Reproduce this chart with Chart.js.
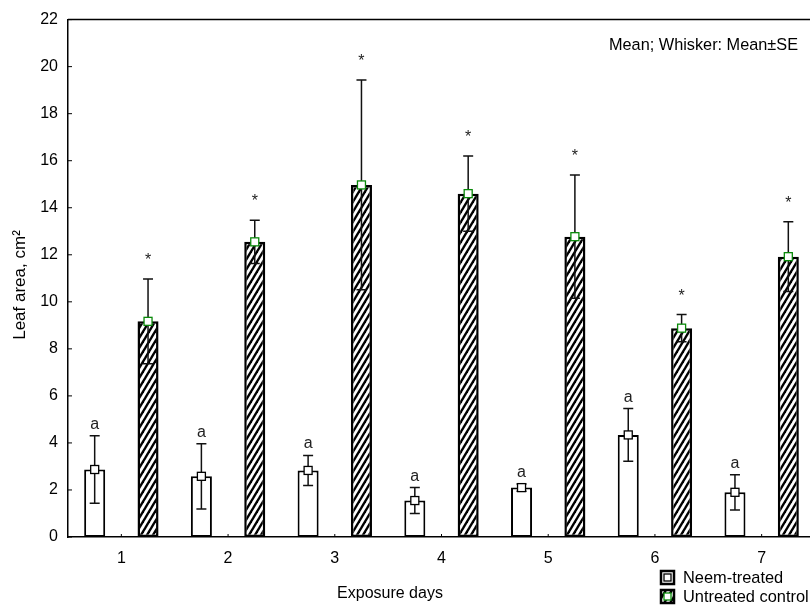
<!DOCTYPE html>
<html><head><meta charset="utf-8">
<script src="https://cdn.jsdelivr.net/npm/chart.js@4.4.1/dist/chart.umd.min.js"></script>
<style>
html,body{margin:0;padding:0;background:#fff;overflow:hidden;}
#wrap{width:810px;height:607px;overflow:hidden;position:relative;background:#fff;}
canvas{display:block;}
</style></head><body>
<div id="wrap"><canvas id="c" width="830" height="607"></canvas></div>
<script>
// ---- data ----
const days = ['1', '2', '3', '4', '5', '6', '7'];
const neemMean = [2.87, 2.58, 2.83, 1.55, 2.10, 4.34, 1.90];
const neemSE = [1.43, 1.39, 0.64, 0.55, 0.15, 1.12, 0.75];
const controlMean = [9.17, 12.55, 14.97, 14.60, 12.77, 8.88, 11.92];
const controlSE = [1.80, 0.92, 4.46, 1.60, 2.62, 0.58, 1.48];
const neemLetters = ['a', 'a', 'a', 'a', 'a', 'a', 'a'];
const controlMarks = ['*', '*', '*', '*', '*', '*', '*'];
const seriesNames = ['Neem-treated', 'Untreated control'];
const noteText = 'Mean; Whisker: Mean\u00B1SE';
const xTitle = 'Exposure days';
const yTitle = 'Leaf area, cm\u00B2';
const yMin = 0, yMax = 22, yStep = 2;

const FONT = '"Liberation Sans", Arial, sans-serif';
const GREEN = '#0a8a0a';

function makeHatch(ctx) {
  const w = 6, h = 10;
  const c = document.createElement('canvas');
  c.width = w; c.height = h;
  const g = c.getContext('2d');
  g.fillStyle = '#fff'; g.fillRect(0, 0, w, h);
  g.strokeStyle = '#000'; g.lineWidth = 2.4;
  for (let k = -1; k <= 1; k++) {
    g.beginPath();
    g.moveTo(k * w - 0.3 * w, h + 0.3 * h);
    g.lineTo(k * w + 1.3 * w, -0.3 * h);
    g.stroke();
  }
  return ctx.createPattern(c, 'repeat');
}

const canvas = document.getElementById('c');
const ctx0 = canvas.getContext('2d');
const hatch = makeHatch(ctx0);

function drawMarker(ctx, cx, cy, stroke, s) {
  ctx.fillStyle = '#fff';
  ctx.fillRect(cx - s / 2, cy - s / 2, s, s);
  ctx.strokeStyle = stroke; ctx.lineWidth = 1.3;
  ctx.strokeRect(cx - s / 2, cy - s / 2, s, s);
}

const overlay = {
  id: 'overlay',
  afterDatasetsDraw(chart) {
    const { ctx, chartArea: a, scales: { x, y } } = chart;
    ctx.save();
    // top frame line
    ctx.strokeStyle = '#000'; ctx.lineWidth = 1.5;
    ctx.beginPath(); ctx.moveTo(a.left, a.top); ctx.lineTo(a.right + 20, a.top); ctx.stroke();
    // inward ticks
    ctx.lineWidth = 1;
    ctx.beginPath();
    y.ticks.forEach(t => {
      const py = y.getPixelForValue(t.value);
      ctx.moveTo(a.left, py); ctx.lineTo(a.left + 4, py);
    });
    days.forEach((d, i) => {
      const px = x.getPixelForValue(i);
      ctx.moveTo(px, a.bottom); ctx.lineTo(px, a.bottom - 3);
    });
    ctx.stroke();

    const sets = [
      { mean: neemMean, se: neemSE, marks: neemLetters, stroke: '#000', off: 7 },
      { mean: controlMean, se: controlSE, marks: controlMarks, stroke: GREEN, off: 14 }
    ];
    sets.forEach((s, d) => {
      const meta = chart.getDatasetMeta(d);
      meta.data.forEach((bar, i) => {
        const cx = bar.x;
        const yHi = y.getPixelForValue(s.mean[i] + s.se[i]);
        const yLo = y.getPixelForValue(s.mean[i] - s.se[i]);
        ctx.strokeStyle = '#111'; ctx.lineWidth = 1.5;
        ctx.beginPath();
        ctx.moveTo(cx, yHi); ctx.lineTo(cx, yLo);
        ctx.moveTo(cx - 5, yHi); ctx.lineTo(cx + 5, yHi);
        ctx.moveTo(cx - 5, yLo); ctx.lineTo(cx + 5, yLo);
        ctx.stroke();
        drawMarker(ctx, cx, y.getPixelForValue(s.mean[i]), s.stroke, 8);
        ctx.fillStyle = '#222';
        ctx.font = '16px ' + FONT;
        ctx.textAlign = 'center'; ctx.textBaseline = 'alphabetic';
        ctx.fillText(s.marks[i], cx, yHi - s.off);
      });
    });

    // note text
    ctx.fillStyle = '#000';
    ctx.font = '16.3px ' + FONT;
    ctx.textAlign = 'right'; ctx.textBaseline = 'alphabetic';
    ctx.fillText(noteText, 798, 49.5);

    // axis titles
    ctx.font = '16px ' + FONT;
    ctx.textAlign = 'center';
    ctx.fillText(xTitle, 390, 598);
    ctx.save();
    ctx.font = '17px ' + FONT;
    ctx.translate(25, 285);
    ctx.rotate(-Math.PI / 2);
    ctx.textBaseline = 'alphabetic';
    ctx.fillText(yTitle, 0, 0);
    ctx.restore();

    // legend
    const lx = 661, rows = [571, 590];
    rows.forEach((ly, k) => {
      ctx.fillStyle = k === 0 ? '#fff' : hatch;
      ctx.fillRect(lx, ly, 13, 13);
      ctx.strokeStyle = '#000'; ctx.lineWidth = 2.5;
      ctx.strokeRect(lx, ly, 13, 13);
      drawMarker(ctx, lx + 6.5, ly + 6.5, k === 0 ? '#000' : GREEN, 7);
      ctx.fillStyle = '#000';
      ctx.font = '16.4px ' + FONT;
      ctx.textAlign = 'left'; ctx.textBaseline = 'alphabetic';
      ctx.fillText(seriesNames[k], 683, ly + 11.5);
    });
    ctx.restore();
  }
};

new Chart(canvas, {
  type: 'bar',
  data: {
    labels: days,
    datasets: [
      { label: seriesNames[0], data: neemMean, backgroundColor: '#fff', borderColor: '#000', borderWidth: 2, borderSkipped: false },
      { label: seriesNames[1], data: controlMean, backgroundColor: hatch, borderColor: '#000', borderWidth: 2.5, borderSkipped: false }
    ]
  },
  options: {
    responsive: false,
    animation: false,
    devicePixelRatio: 1,
    layout: { padding: { left: 0, top: 16, right: 15, bottom: 0 } },
    datasets: { bar: { categoryPercentage: 1.0, barPercentage: 0.394 } },
    plugins: { legend: { display: false }, tooltip: { enabled: false } },
    scales: {
      x: {
        grid: { display: false, drawTicks: false },
        border: { display: true, color: '#000', width: 1.5 },
        ticks: { color: '#000', font: { family: FONT, size: 16 }, padding: 12 },
        afterFit(s) { s.height = 70; }
      },
      y: {
        min: yMin, max: yMax,
        grid: { display: false, drawTicks: false },
        border: { display: true, color: '#000', width: 1.5 },
        ticks: { stepSize: yStep, color: '#000', font: { family: FONT, size: 16 }, padding: 10 },
        afterFit(s) { s.width = 68; }
      }
    }
  },
  plugins: [overlay]
});
</script>
</body></html>
